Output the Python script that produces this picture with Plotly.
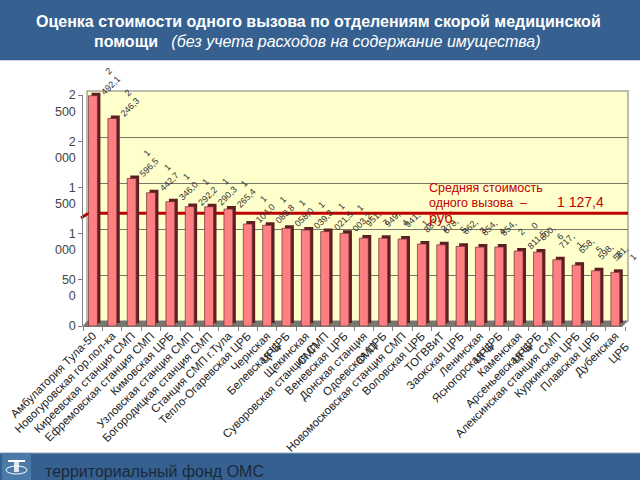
import plotly.graph_objects as go

W, H = 640, 480

categories = [
    "Амбулатория Тула-50", "Новогуровская гор.пол-ка", "Киреевская станция СМП",
    "Ефремовская станция СМП", "Кимовская ЦРБ", "Узловская станция СМП",
    "Богородицкая станция СМП", "Станция СМП г.Тула", "Тепло-Огаревская ЦРБ",
    "Чернская<br>ЦРБ", "Белевская ЦРБ", "Щекинская<br>СМП",
    "Суворовская станция СМП", "Веневская ЦРБ", "Донская станция<br>СМП",
    "Одоевская ЦРБ", "Новомосковская станция СМП", "Воловская ЦРБ",
    "ТОГВВиТ", "Заокская ЦРБ", "Ленинская<br>ЦРБ", "Ясногорская ЦРБ",
    "Каменская<br>ЦРБ", "Арсеньевская ЦРБ", "Алексинская станция СМП",
    "Куркинская ЦРБ", "Плавская ЦРБ", "Дубенская<br>ЦРБ",
]
values = [
    2492.1, 2246.3, 1596.5, 1442.7, 1346.0, 1292.2, 1290.3, 1265.4, 1104.0, 1089.8,
    1058.0, 1039.3, 1021.5, 1003.2, 951.7, 949.4, 941.1, 887.2, 878.5, 862.3,
    854.4, 854.2, 811.5, 800.6, 717.1, 658.5, 598.3, 581.1,
]
value_labels = [
    "2<br>492,1", "2<br>246,3", "1<br>596,5", "1<br>442,7", "1<br>346,0", "1<br>292,2",
    "1<br>290,3", "1<br>265,4", "1<br>104,0", "1<br>089,8", "1<br>058,0", "1<br>039,3",
    "1<br>021,5", "1<br>003,2", "951,<br>7", "949,<br>4", "941,<br>1", "887,<br>2",
    "878,<br>5", "862,<br>3", "854,<br>4", "854,<br>2", "0<br>811,5", "800,<br>6",
    "717,<br>1", "658,<br>5", "598,<br>3", "581,<br>1",
]
mean_cost = 1127.4
y_ticks = [0, 500, 1000, 1500, 2000, 2500]
# the blank first line pushes the wrapped labels down, the top line sits on the tick
y_tick_labels = ["0", "&nbsp;<br>50<br>0", "&nbsp;<br>1<br>000", "&nbsp;<br>1<br>500",
                 "&nbsp;<br>2<br>000", "&nbsp;<br>2<br>500"]

HEADER_BLUE = "#36608f"
BAR_FRONT = "#ff7f82"
BAR_SIDE = "#5e1f22"
WALL = "#ffffcc"
TEXT = "#333333"
FONT = "Liberation Sans"


def dom_x(x0, x1):
    return [x0 / W, x1 / W]


def dom_y(top, bottom):
    return [1 - bottom / H, 1 - top / H]


x_range = [-0.5, 27.5]
y_range = [0, 2500]
idx = list(range(len(categories)))

fig = go.Figure()

# back wall, mean line, bar side and bar front each get their own axes pair
fig.add_trace(go.Scatter(x=[], y=[], xaxis="x", yaxis="y", showlegend=False))
fig.add_trace(go.Scatter(x=x_range, y=[mean_cost, mean_cost], mode="lines",
                         line=dict(color="#c00000", width=3), xaxis="x2", yaxis="y2",
                         showlegend=False))
fig.add_trace(go.Bar(x=idx, y=values, width=0.46, marker=dict(color=BAR_SIDE, line_width=0),
                     xaxis="x3", yaxis="y3", showlegend=False))
fig.add_trace(go.Bar(x=idx, y=values, width=0.46,
                     marker=dict(color=BAR_FRONT, line=dict(color="#6b3033", width=0.7)),
                     xaxis="x4", yaxis="y4", showlegend=False))

hidden = dict(visible=False, fixedrange=True, automargin=False)
front_x = dict(
    domain=dom_x(83.3, 625), range=x_range, anchor="y4", tickmode="array",
    tickvals=idx, ticktext=categories, tickangle=-45, ticks="", showgrid=False,
    tickfont=dict(family=FONT, size=11.5, color="#222222"), showline=False, zeroline=False,
    automargin=False,
    minor=dict(tickmode="array", tickvals=[i - 0.5 for i in range(29)], ticks="outside",
               ticklen=4, tickcolor="#808080", showgrid=False),
)
front_y = dict(
    domain=dom_y(95, 326), range=y_range, anchor="x4", tickmode="array",
    tickvals=y_ticks, ticktext=y_tick_labels, ticks="outside", ticklen=4, tickcolor="#808080",
    showline=True, linecolor="#808080", showgrid=False, zeroline=False, automargin=False,
    tickfont=dict(family=FONT, size=12.5, color="#444444"),
)

fig.update_layout(
    width=W, height=H, margin=dict(l=0, r=0, t=0, b=0), autosize=False,
    paper_bgcolor="white", plot_bgcolor="rgba(0,0,0,0)", barmode="overlay",
    font=dict(family=FONT),
    xaxis=dict(domain=dom_x(88, 628), range=x_range, anchor="y", visible=False, automargin=False),
    yaxis=dict(domain=dom_y(91, 321), range=y_range, anchor="x", tickmode="array",
               tickvals=y_ticks, showticklabels=False, showgrid=True, gridcolor="#77776a",
               gridwidth=1, zeroline=False, showline=False, automargin=False),
    xaxis2=dict(domain=dom_x(88, 628), range=x_range, anchor="y2", **hidden),
    yaxis2=dict(domain=dom_y(87, 317), range=y_range, anchor="x2", **hidden),
    xaxis3=dict(domain=dom_x(86.3, 628), range=x_range, anchor="y3", **hidden),
    yaxis3=dict(domain=dom_y(92, 323), range=y_range, anchor="x3", **hidden),
    xaxis4=front_x,
    yaxis4=front_y,
)

shapes = [
    dict(type="rect", xref="paper", yref="paper", x0=0, x1=1, y0=1 - 60 / H, y1=1,
         fillcolor=HEADER_BLUE, line_width=0, layer="below"),
    dict(type="line", xref="paper", yref="paper", x0=0, x1=1, y0=1 - 60.5 / H, y1=1 - 60.5 / H,
         line=dict(color="#c5d5e5", width=1), layer="below"),
    dict(type="rect", xref="paper", yref="paper", x0=0, x1=1, y0=0, y1=1 - 453 / H,
         fillcolor=HEADER_BLUE, line_width=0, layer="below"),
    dict(type="line", xref="paper", yref="paper", x0=0, x1=1, y0=1 - 453 / H, y1=1 - 453 / H,
         line=dict(color="#8fa8c0", width=1), layer="below"),
    dict(type="rect", xref="paper", yref="paper", x0=2 / W, x1=31 / W, y0=0, y1=1 - 453 / H,
         fillcolor="#4a7aa8", line_width=0, layer="below"),
    dict(type="rect", xref="paper", yref="paper", x0=8 / W, x1=25 / W, y0=1 - 462 / H, y1=1 - 460 / H,
         fillcolor="white", line_width=0, layer="below"),
    dict(type="rect", xref="paper", yref="paper", x0=14 / W, x1=19 / W, y0=1 - 472 / H, y1=1 - 462 / H,
         fillcolor="#dfe8f0", line_width=0, layer="below"),
    dict(type="circle", xref="paper", yref="paper", x0=6 / W, x1=27 / W, y0=1 - 474 / H, y1=1 - 466 / H,
         line=dict(color="white", width=1), layer="below"),
    # back wall
    dict(type="rect", xref="paper", yref="paper", x0=87 / W, x1=628 / W, y0=1 - 321 / H, y1=1 - 91 / H,
         fillcolor=WALL, line=dict(color="#a8a8a0", width=1.5), layer="below"),
    # floor
    dict(type="path", xref="paper", yref="paper",
         path=(f"M {82 / W} {1 - 327 / H} L {87 / W} {1 - 321 / H} L {628 / W} {1 - 321 / H} "
               f"L {622 / W} {1 - 327 / H} Z"),
         fillcolor="#777770", line_width=0, layer="below"),
    # left wall stub of the mean line
    dict(type="line", xref="paper", yref="paper", x0=81 / W, x1=88 / W, y0=1 - 218 / H, y1=1 - 213.5 / H,
         line=dict(color="#c00000", width=3), layer="below"),
]
fig.update_layout(shapes=shapes)

annotations = []
for i, (v, lab) in enumerate(zip(values, value_labels)):
    # the last label would run off the page otherwise
    shift = 10 if i == len(values) - 1 else 14
    annotations.append(dict(
        x=i, y=v, xref="x4", yref="y4", text=lab, showarrow=False, textangle=-45,
        align="right", xanchor="center", yanchor="middle", xshift=shift, yshift=15,
        font=dict(family=FONT, size=9, color=TEXT),
    ))


def label(x, y, text, size, color, anchor="left", align=None):
    annotations.append(dict(
        x=x / W, y=1 - y / H, xref="paper", yref="paper", text=text, showarrow=False,
        xanchor=anchor, yanchor="middle", align=align or anchor,
        font=dict(family=FONT, size=size, color=color),
    ))


label(318, 21.5, "<b>Оценка стоимости одного вызова по отделениям скорой медицинской</b>", 16, "white", "center")
label(317, 41, "<b>помощи</b>   <i>(без учета расходов на содержание имущества)</i>", 16, "white", "center")
label(427, 188, "Средняя стоимость", 12.5, "#c00000")
label(427, 203, "одного вызова  –", 12.5, "#c00000")
label(555, 202, "1 127,4", 14, "#c00000")
label(427, 218, "руб.", 14.5, "#c00000")
label(43, 471, "территориальный фонд ОМС", 16, "#1a2a3a")
fig.update_layout(annotations=annotations)

fig.write_html("out.html", post_script="document.body.style.margin='0';",
               config=dict(displayModeBar=False))
